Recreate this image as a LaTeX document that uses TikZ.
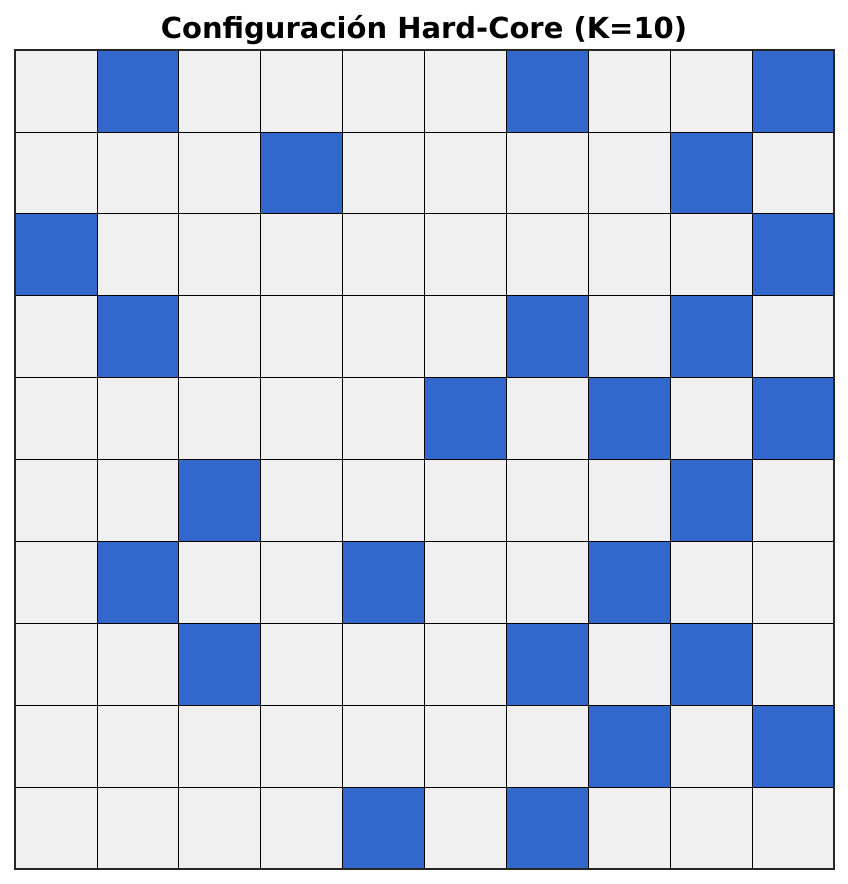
\documentclass[tikz,border=0pt]{standalone}
\usepackage{fontspec}
\setmainfont{DejaVu Sans}
\usetikzlibrary{positioning}
\definecolor{ocupado}{HTML}{3267CC}
\definecolor{libre}{HTML}{F0F0F0}
\definecolor{marco}{HTML}{262626}

\begin{document}
\begin{tikzpicture}[x=1pt, y=-1pt,
    celda/.style={draw=black, line width=0.8pt, fill=libre},
    activa/.style={celda, fill=ocupado}]
  \useasboundingbox (0,0) rectangle (848,884);
  \fill[white] (0,0) rectangle (848,884);
  \def\lado{81.9}
  % Titulo
  \node[font=\fontsize{29}{33}\selectfont\bfseries] (titulo) at (424,30) {Configuración Hard-Core (K=10)};
  % Celdas libres
  \foreach \f in {0,...,9}
    \foreach \c in {0,...,9}
      \draw[celda] ({15+\c*\lado},{50+\f*\lado}) rectangle ++(\lado,\lado);
  % Celdas ocupadas (fila/columna)
  \foreach \f/\c in {0/1,0/6,0/9, 1/3,1/8, 2/0,2/9, 3/1,3/6,3/8, 4/5,4/7,4/9,
                     5/2,5/8, 6/1,6/4,6/7, 7/2,7/6,7/8, 8/7,8/9, 9/4,9/6}
    \draw[activa] ({15+\c*\lado},{50+\f*\lado}) rectangle ++(\lado,\lado);
  % Marco
  \draw[marco, line width=1.5pt] (15,50) rectangle (834,869);
\end{tikzpicture}
\end{document}
